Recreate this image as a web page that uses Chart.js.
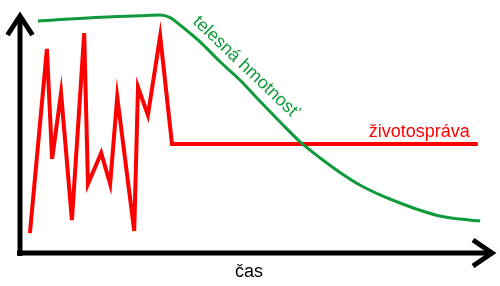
<!DOCTYPE html>
<html>
<head>
<meta charset="utf-8">
<script src="https://cdn.jsdelivr.net/npm/chart.js@4"></script>
<style>
  html, body { margin: 0; padding: 0; background: #fff; }
  #wrap { width: 500px; height: 286px; position: relative; }
</style>
</head>
<body>
<div id="wrap"><canvas id="chart"></canvas></div>
<script>
// životospráva (červená) - čas / hodnota
const timeRed = [2.1, 5.7, 6.8, 8.7, 11.0, 13.6, 14.4, 17.2, 19.1, 20.6, 24.2, 25.0, 27.1, 29.7, 32.2, 97.0];
const lifestyle = [8.4, 86.1, 39.7, 67.5, 13.9, 92.8, 29.1, 42.2, 29.1, 65.8, 9.3, 70.0, 58.2, 91.6, 46.0, 46.0];

// telesná hmotnosť (zelená)
const timeGreen = [3.8, 15.9, 25.4, 29.7, 31.8, 33.9, 36.0, 38.1, 42.4, 46.6, 50.8, 55.1, 59.3, 63.6,
                   67.8, 72.0, 76.3, 80.5, 84.7, 89.0, 93.2, 97.5];
const bodyWeight = [97.9, 99.4, 100.1, 100.4, 99.3, 96.2, 92.8, 89.2, 80.7, 73.0, 64.1, 55.3, 47.0, 40.1,
                    34.0, 28.7, 24.5, 21.1, 18.1, 15.6, 14.3, 13.5];

const RED = '#ff0000';
const GREEN = '#109a3c';
const FONT = '"Liberation Sans", Arial, sans-serif';

// osi so šípkami + popisy
const axesPlugin = {
  id: 'axesArrows',
  afterDraw(chart) {
    const ctx = chart.ctx;
    const a = chart.chartArea;
    const x = chart.scales.x, y = chart.scales.y;
    ctx.save();
    ctx.strokeStyle = '#000';
    ctx.lineWidth = 5;
    ctx.lineCap = 'butt';
    ctx.lineJoin = 'miter';
    // os y
    ctx.beginPath();
    ctx.moveTo(a.left, a.bottom + 3);
    ctx.lineTo(a.left, a.top + 1);
    ctx.stroke();
    ctx.beginPath();
    ctx.moveTo(a.left - 12.5, a.top + 19);
    ctx.lineTo(a.left, a.top);
    ctx.lineTo(a.left + 12.5, a.top + 19);
    ctx.stroke();
    // os x
    ctx.beginPath();
    ctx.moveTo(a.left - 3, a.bottom);
    ctx.lineTo(a.right - 1, a.bottom);
    ctx.stroke();
    ctx.beginPath();
    ctx.moveTo(a.right - 19, a.bottom - 13);
    ctx.lineTo(a.right, a.bottom);
    ctx.lineTo(a.right - 19, a.bottom + 13);
    ctx.stroke();

    // texty
    ctx.font = '18px ' + FONT;
    ctx.fillStyle = '#000';
    ctx.textAlign = 'center';
    ctx.textBaseline = 'alphabetic';
    ctx.fillText('čas', x.getPixelForValue(48.5), a.bottom + 24);

    ctx.fillStyle = RED;
    ctx.textAlign = 'right';
    ctx.fillText('životospráva', x.getPixelForValue(95.3), y.getPixelForValue(48.9));

    ctx.fillStyle = GREEN;
    ctx.textAlign = 'center';
    ctx.textBaseline = 'middle';
    ctx.translate(x.getPixelForValue(47.8), y.getPixelForValue(78.5));
    ctx.rotate(43.6 * Math.PI / 180);
    ctx.fillText('telesná hmotnosť', 0, 0);
    ctx.restore();
  }
};

new Chart(document.getElementById('chart'), {
  type: 'line',
  data: {
    datasets: [{
      label: 'telesná hmotnosť',
      data: timeGreen.map((t, i) => ({ x: t, y: bodyWeight[i] })),
      borderColor: GREEN,
      borderWidth: 3,
      pointRadius: 0,
      cubicInterpolationMode: 'monotone',
      clip: false
    }, {
      label: 'životospráva',
      data: timeRed.map((t, i) => ({ x: t, y: lifestyle[i] })),
      borderColor: RED,
      borderWidth: 4,
      pointRadius: 0,
      tension: 0,
      clip: false
    }]
  },
  options: {
    responsive: true,
    maintainAspectRatio: false,
    animation: false,
    layout: { padding: { left: 20, right: 8, top: 16, bottom: 33 } },
    scales: {
      x: { type: 'linear', min: 0, max: 100, display: false },
      y: { min: 0, max: 100, display: false }
    },
    plugins: {
      legend: { display: false },
      tooltip: { enabled: false }
    }
  },
  plugins: [axesPlugin]
});
</script>
</body>
</html>
